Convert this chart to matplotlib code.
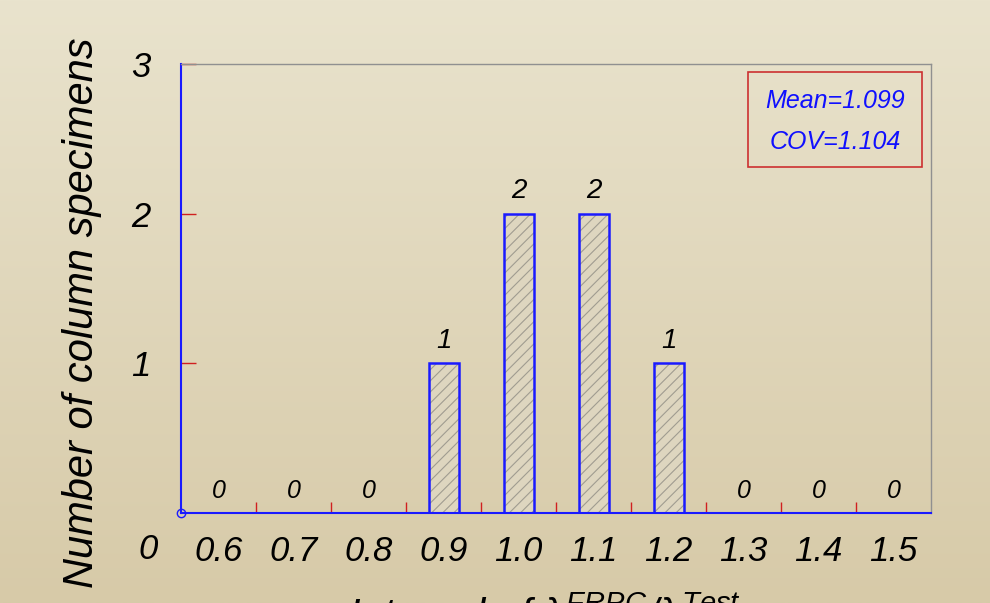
import numpy as np
import matplotlib.pyplot as plt
from matplotlib.patches import Rectangle

plt.rcParams['font.family'] = ['Liberation Sans', 'DejaVu Sans']
plt.rcParams['font.style'] = 'italic'
plt.rcParams['mathtext.fontset'] = 'custom'
plt.rcParams['mathtext.rm'] = 'Liberation Sans:italic'
plt.rcParams['mathtext.it'] = 'Liberation Sans:italic'
plt.rcParams['hatch.linewidth'] = 0.8

# data
categorias = ['0.6', '0.7', '0.8', '0.9', '1.0', '1.1', '1.2', '1.3', '1.4', '1.5']
conteos = [0, 0, 0, 1, 2, 2, 1, 0, 0, 0]
texto_media = 'Mean=1.099'
texto_cov = 'COV=1.104'

fig = plt.figure(figsize=(9.9, 6.03), dpi=100)

# fondo degradado
fondo = fig.add_axes([0, 0, 1, 1], zorder=-10)
arriba = np.array([233, 227, 205]) / 255
abajo = np.array([215, 202, 168]) / 255
t = np.linspace(0, 1, 256)[:, None]
grad = arriba[None, :] * (1 - t) + abajo[None, :] * t
fondo.imshow(grad[:, None, :], aspect='auto', extent=[0, 1, 0, 1])
fondo.axis('off')

ax = fig.add_axes([181 / 990, 90 / 603, 750 / 990, 449 / 603])
ax.set_facecolor('none')

x = np.arange(len(categorias))
# relleno con rayado gris, luego borde azul
ax.bar(x, conteos, width=0.4, color=(0.87, 0.84, 0.75), edgecolor='#a09c90',
       hatch='///', linewidth=0, zorder=2)
ax.bar(x, conteos, width=0.4, fill=False, edgecolor='#1a1aff', linewidth=1.8, zorder=3)

for xi, c in zip(x, conteos):
    ax.annotate(str(c), (xi, c), xytext=(0, 7), textcoords='offset points',
                ha='center', va='bottom', fontsize=20 if c else 18)

ax.set_xlim(-0.5, len(categorias) - 0.5)
ax.set_ylim(0, 3)

ax.set_xticks(x)
ax.set_xticklabels(categorias, fontsize=25)
ax.tick_params(axis='x', which='major', length=0, pad=16)
ax.set_xticks(x[:-1] + 0.5, minor=True)
ax.tick_params(axis='x', which='minor', direction='in', length=8, color='#d02020', width=1)

ax.set_yticks([1, 2, 3])
ax.set_yticklabels(['1', '2', '3'], fontsize=25)
ax.tick_params(axis='y', direction='in', length=11, color='#d02020', width=1, pad=22)

ax.text(-0.044, -0.082, '0', transform=ax.transAxes, ha='center', va='center', fontsize=25)

for lado in ['top', 'right']:
    ax.spines[lado].set_color('#909090')
    ax.spines[lado].set_linewidth(1)
for lado in ['left', 'bottom']:
    ax.spines[lado].set_color('#1a1aff')
    ax.spines[lado].set_linewidth(1.5)

ax.plot([-0.5], [0], marker='o', markersize=6, markerfacecolor='none',
        markeredgecolor='#1a1aff', clip_on=False, zorder=5)

# cuadro de estadisticas
ax.add_patch(Rectangle((0.756, 0.7706), 0.232, 0.2114, transform=ax.transAxes,
                       fill=False, edgecolor='#cc3030', linewidth=1.2))
ax.text(0.872, 0.917, texto_media, transform=ax.transAxes, ha='center', va='center',
        fontsize=18, color='#1010ff')
ax.text(0.872, 0.826, texto_cov, transform=ax.transAxes, ha='center', va='center',
        fontsize=18, color='#1010ff')

fig.text(82 / 990, 1 - 313 / 603, 'Number of column specimens', rotation=90,
         ha='center', va='center', fontsize=30)
fig.text(0.55, -0.043, r'Interval of $\lambda^{FRPC}/\lambda^{Test}$', ha='center',
         va='baseline', fontsize=30)

fig.savefig('out.png', dpi=100)
